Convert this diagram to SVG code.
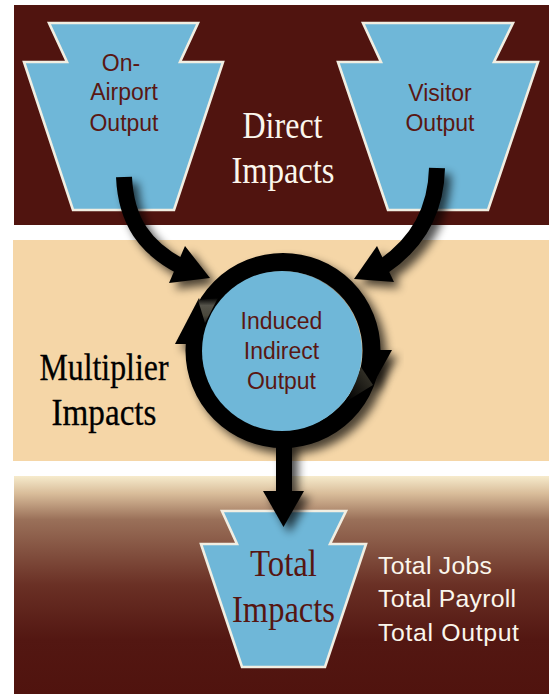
<svg xmlns="http://www.w3.org/2000/svg" width="551" height="694" viewBox="0 0 551 694">
<defs>
<linearGradient id="fade" x1="0" y1="0" x2="0" y2="1">
<stop offset="0" stop-color="#f6ebcc"/><stop offset="0.08" stop-color="#d9bd9a"/><stop offset="0.2" stop-color="#9a7059"/><stop offset="0.5" stop-color="#6a3025"/><stop offset="0.75" stop-color="#531712"/><stop offset="1" stop-color="#50130e"/>
</linearGradient>
<linearGradient id="glintA" x1="0" y1="0" x2="0" y2="1"><stop offset="0" stop-color="#000"/><stop offset="0.3" stop-color="#55534a"/><stop offset="0.7" stop-color="#4a483c"/><stop offset="1" stop-color="#222"/></linearGradient>
<linearGradient id="glintB" x1="0" y1="1" x2="1" y2="0"><stop offset="0" stop-color="#000"/><stop offset="0.7" stop-color="#2c2a22"/><stop offset="1" stop-color="#3c3a30"/></linearGradient>
<filter id="shadow" x="-30%" y="-30%" width="170%" height="170%"><feGaussianBlur in="SourceAlpha" stdDeviation="5"/><feOffset dx="6" dy="6"/><feComponentTransfer><feFuncA type="linear" slope="0.7"/></feComponentTransfer><feMerge><feMergeNode/><feMergeNode in="SourceGraphic"/></feMerge></filter>
</defs>
<style>
.key{fill:#6fb7d8;stroke:#f1eee2;stroke-width:2.6;stroke-linejoin:miter}
.sans{font-family:"Liberation Sans",Arial,sans-serif;font-size:23px;fill:#5a1713;text-anchor:middle}
.serif{font-family:"Liberation Serif",serif;font-size:38px;text-anchor:middle}
.light{fill:#fbf6ec}
.dark{fill:#561511}
.list{font-family:"Liberation Sans",Arial,sans-serif;font-size:24.8px;fill:#fbf6ec}
.shaft{fill:none;stroke:#000;stroke-width:16}
</style>
<g id="bands">
<rect x="14" y="5" width="535" height="220" fill="#50140f"/>
<rect x="13" y="240" width="536" height="221" fill="#f5d6a7"/>
<rect x="14" y="476" width="535" height="218" fill="url(#fade)"/>
</g>
<g id="on-airport">
<polygon class="key" points="49,23 198,23 180,62 223,62 174,210 73,210 24,62 67,62"/>
<text class="sans" x="121" y="71">On-</text>
<text class="sans" x="124" y="100">Airport</text>
<text class="sans" x="124" y="131">Output</text>
</g>
<g id="visitor">
<polygon class="key" points="363,23 513,23 494,62 538,62 488,210 388,210 338,62 381,62"/>
<text class="sans" x="440" y="101">Visitor</text>
<text class="sans" x="440" y="131">Output</text>
</g>
<g id="total">
<polygon class="key" points="222,511 346,511 330,544 366,544 325,667 242,667 201,544 237,544"/>
<text class="serif dark" x="283.500" y="576" textLength="67" lengthAdjust="spacingAndGlyphs">Total</text>
<text class="serif dark" x="283.500" y="622" textLength="103" lengthAdjust="spacingAndGlyphs">Impacts</text>
</g>
<g id="connectors" filter="url(#shadow)">
<path class="shaft" d="M124,177 C126,222 146,248 180,266"/>
<polygon points="185,246 169,283 210,278"/>
<path class="shaft" d="M437,168 C436,212 416,244 384,266"/>
<polygon points="377,246 394,282 354,279"/>
<path d="M284,440 V495" fill="none" stroke="#000" stroke-width="16"/>
<polygon points="263,491 304,491 283.500,527"/>
</g>
<g id="induced">
<circle cx="283" cy="350.500" r="88.500" fill="none" stroke="#000" stroke-width="18" filter="url(#shadow)"/>
<polygon points="175,344 199,298 206,322 192,344" filter="url(#shadow)"/>
<polygon points="392,350 372,386 362,368 378,350" filter="url(#shadow)"/>
<path d="M198,300 L218,298 L205,323 Z" fill="url(#glintA)"/>
<path d="M361,367 L373,385 L347,401 Z" fill="url(#glintB)"/>
<circle cx="282" cy="351" r="80" fill="#6fb7d8"/>
<text class="sans" x="281.500" y="329">Induced</text>
<text class="sans" x="281.500" y="359">Indirect</text>
<text class="sans" x="281.500" y="389">Output</text>
</g>
<g id="labels">
<text class="serif light" x="282.500" y="138" textLength="80" lengthAdjust="spacingAndGlyphs">Direct</text>
<text class="serif light" x="283" y="183" textLength="103" lengthAdjust="spacingAndGlyphs">Impacts</text>
<text class="serif" fill="#000" stroke="#000" stroke-width="0.3" x="104" y="380" textLength="129" lengthAdjust="spacingAndGlyphs">Multiplier</text>
<text class="serif" fill="#000" stroke="#000" stroke-width="0.3" x="104" y="425" textLength="105" lengthAdjust="spacingAndGlyphs">Impacts</text>
<text class="list" x="378" y="574" textLength="114" lengthAdjust="spacing">Total Jobs</text>
<text class="list" x="378" y="607" textLength="138" lengthAdjust="spacing">Total Payroll</text>
<text class="list" x="378" y="641" textLength="141" lengthAdjust="spacing">Total Output</text>
</g>
</svg>
